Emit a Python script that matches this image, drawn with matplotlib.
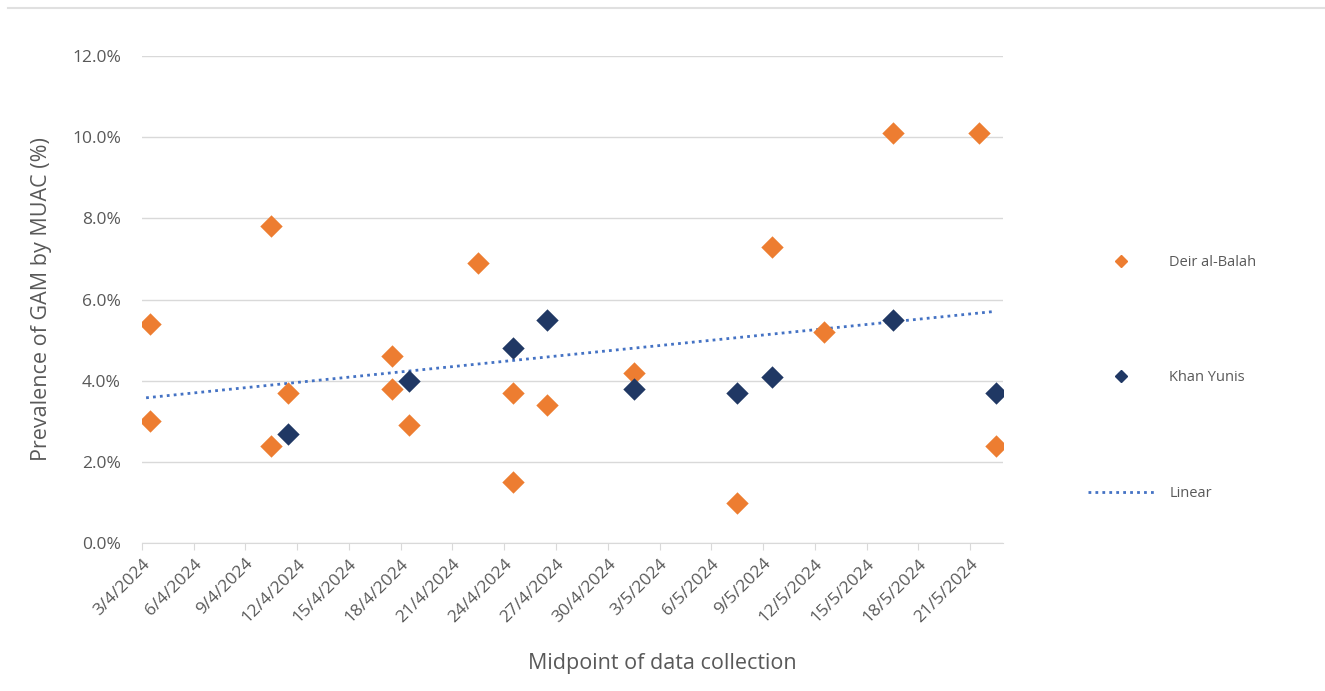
import matplotlib
matplotlib.use("Agg")
import matplotlib.pyplot as plt
import matplotlib.dates as mdates
import numpy as np
import pandas as pd
from matplotlib.lines import Line2D

plt.rcParams['font.family'] = ['Open Sans', 'DejaVu Sans']

# Data
deir_dates = ["2024-04-03 12:00", "2024-04-03 12:00", "2024-04-10 12:00", "2024-04-10 12:00",
              "2024-04-11 12:00", "2024-04-17 12:00", "2024-04-17 12:00", "2024-04-18 12:00",
              "2024-04-22 12:00", "2024-04-24 12:00", "2024-04-24 12:00", "2024-04-26 12:00",
              "2024-05-01 12:00", "2024-05-07 12:00", "2024-05-09 12:00", "2024-05-12 12:00",
              "2024-05-16 12:00", "2024-05-21 12:00", "2024-05-22 12:00"]
deir_values = [5.4, 3.0, 7.8, 2.4, 3.7, 4.6, 3.8, 2.9, 6.9, 3.7, 1.5, 3.4, 4.2, 1.0, 7.3, 5.2, 10.1, 10.1, 2.4]

khan_dates = ["2024-04-11 12:00", "2024-04-18 12:00", "2024-04-24 12:00", "2024-04-26 12:00",
              "2024-05-01 12:00", "2024-05-07 12:00", "2024-05-09 12:00", "2024-05-16 12:00",
              "2024-05-22 12:00"]
khan_values = [2.7, 4.0, 4.8, 5.5, 3.8, 3.7, 4.1, 5.5, 3.7]

# Linear trend line end points
trend_dates = ["2024-04-03 06:00", "2024-05-22 06:00"]
trend_values = [3.58, 5.70]

tick_dates = ["2024-04-03", "2024-04-06", "2024-04-09", "2024-04-12", "2024-04-15", "2024-04-18",
              "2024-04-21", "2024-04-24", "2024-04-27", "2024-04-30", "2024-05-03", "2024-05-06",
              "2024-05-09", "2024-05-12", "2024-05-15", "2024-05-18", "2024-05-21"]
tick_labels = ["3/4/2024", "6/4/2024", "9/4/2024", "12/4/2024", "15/4/2024", "18/4/2024",
               "21/4/2024", "24/4/2024", "27/4/2024", "30/4/2024", "3/5/2024", "6/5/2024",
               "9/5/2024", "12/5/2024", "15/5/2024", "18/5/2024", "21/5/2024"]
y_ticks = [0, 2, 4, 6, 8, 10, 12]
y_tick_labels = ["0.0%", "2.0%", "4.0%", "6.0%", "8.0%", "10.0%", "12.0%"]

orange = "#ED7D31"
navy = "#203864"
trend_color = "#4472C4"
text_grey = "#595959"

fig = plt.figure(figsize=(13.25, 6.91), dpi=100)
ax = fig.add_axes([0.107, 0.214, 0.650, 0.705])

dd = mdates.date2num(pd.to_datetime(deir_dates))
kd = mdates.date2num(pd.to_datetime(khan_dates))
td = mdates.date2num(pd.to_datetime(trend_dates))

ax.scatter(dd, deir_values, marker='D', s=130, color=orange, zorder=3, linewidths=0)
ax.scatter(kd, khan_values, marker='D', s=130, color=navy, zorder=3, linewidths=0)
ax.plot(td, trend_values, linestyle=(0, (1, 1.5)), color=trend_color, linewidth=2.0, zorder=2)

x0 = mdates.date2num(pd.Timestamp("2024-04-03"))
ax.set_xlim(x0, x0 + 49.9)
ax.set_ylim(0, 12)

ax.set_yticks(y_ticks)
ax.set_yticklabels(y_tick_labels)
ax.set_xticks(mdates.date2num(pd.to_datetime(tick_dates)))
ax.set_xticklabels(tick_labels, rotation=45, ha='right', rotation_mode='anchor')

ax.grid(axis='y', color='#D9D9D9', linewidth=1.0)
ax.set_axisbelow(True)
for s in ['top', 'right', 'left']:
    ax.spines[s].set_visible(False)
ax.spines['bottom'].set_color('#D9D9D9')
ax.tick_params(axis='x', colors='#D9D9D9', length=5, labelcolor=text_grey, labelsize=12.5, pad=4)
ax.tick_params(axis='y', length=0, labelcolor=text_grey, labelsize=12.5, pad=15)

ax.set_ylabel("Prevalence of GAM by MUAC (%)", color=text_grey, fontsize=15.5)
ax.yaxis.set_label_coords(-0.104, 0.5)
ax.set_xlabel("Midpoint of data collection", color=text_grey, fontsize=15.5)
ax.xaxis.set_label_coords(0.604, -0.226)

# Legend
handles = [Line2D([], [], marker='D', color=orange, linestyle='None', markersize=6.5),
           Line2D([], [], marker='D', color=navy, linestyle='None', markersize=6.5),
           Line2D([], [], color=trend_color, linestyle=(0, (1, 1.5)), linewidth=2.0)]
fig.legend(handles, ["Deir al-Balah", "Khan Yunis", "Linear"], loc='center left',
           bbox_to_anchor=(0.821, 0.453), frameon=False, labelspacing=6.9, handlelength=4.6,
           handletextpad=1.0, fontsize=10.5, labelcolor=text_grey, borderaxespad=0, borderpad=0)

# thin top rule
fig.add_artist(Line2D([0.006, 1.0], [0.989, 0.989], color='#E0E0E0', linewidth=1.5, transform=fig.transFigure))

fig.savefig("out.png", dpi=100, facecolor='white')
